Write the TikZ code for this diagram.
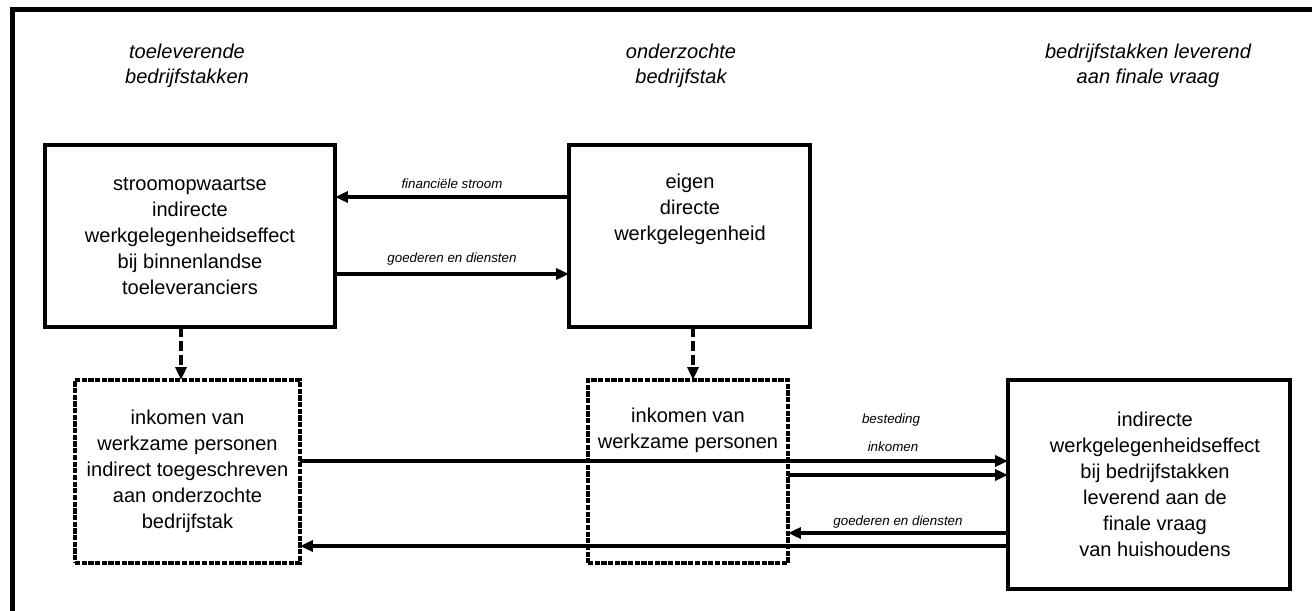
\documentclass[tikz,border=0pt]{standalone}
\usepackage{fontspec}
\setmainfont{Liberation Sans}
\usetikzlibrary{arrows.meta}
\begin{document}
\begin{tikzpicture}[x=0.02cm,y=-0.02cm,
  box/.style={draw, line width=1.9pt, inner sep=0pt, outer sep=0pt, align=center,
    font=\fontsize{11.4}{14.8}\selectfont},
  dotbox/.style={draw, line width=1.8pt, dash pattern=on 3pt off 0.8pt, inner sep=0pt,
    outer sep=0pt, align=center, font=\fontsize{11.4}{14.8}\selectfont},
  txt/.style={align=center, inner sep=0pt, font=\fontsize{11.4}{14.8}\selectfont},
  head/.style={align=center, inner sep=0pt, font=\fontsize{11.4}{14.2}\selectfont\itshape},
  lbl/.style={inner sep=0pt, font=\fontsize{7.6}{9}\selectfont\itshape},
  arr/.style={line width=1.9pt, -{Triangle[length=0.26cm,width=0.22cm]}},
  darr/.style={arr, dash pattern=on 0.2cm off 0.08cm}]
\useasboundingbox (0,0) rectangle (1312,611);
% outer frame (only top and left visible)
\draw[line width=0.1cm, line join=miter] (12.5,10) rectangle (1400,700);

% headers
\node[head] (h1) at (187,65.5) {toeleverende\\bedrijfstakken};
\node[head] (h2) at (681,65.5) {onderzochte\\bedrijfstak};
\node[head] (h3) at (1148,65.5) {bedrijfstakken leverend\\aan finale vraag};

% boxes
\node[box, minimum width=5.8cm, minimum height=3.64cm] (A) at (190,236)
  {stroomopwaartse\\indirecte\\werkgelegenheidseffect\\bij binnenlandse\\toeleveranciers};
\node[box, minimum width=4.82cm, minimum height=3.64cm] (B) at (689.5,236) {};
\node[txt] (Bt) at (690,209) {eigen\\directe\\werkgelegenheid};
\node[dotbox, minimum width=4.5cm, minimum height=3.66cm] (C) at (187.5,471.5)
  {inkomen van\\werkzame personen\\indirect toegeschreven\\aan onderzochte\\bedrijfstak};
\node[dotbox, minimum width=4cm, minimum height=3.66cm] (D) at (688,471.5) {};
\node[txt] (Dt) at (688,430.5) {inkomen van\\werkzame personen};
\node[box, minimum width=5.64cm, minimum height=4.18cm] (E) at (1149,484.5) {};
\node[txt] (Et) at (1155,484) {indirecte\\werkgelegenheidseffect\\bij bedrijfstakken\\leverend aan de\\finale vraag\\van huishoudens};

% levels
\coordinate (y197) at (0,197);
\coordinate (y274) at (0,274);
\coordinate (y461) at (0,461);
\coordinate (y475) at (0,475);
\coordinate (y533) at (0,533);
\coordinate (y546) at (0,546);
\coordinate (xL) at (181,0);
\coordinate (xM) at (693,0);

% connectors
\draw[arr] (B.west |- y197) -- (A.east |- y197)
  node[lbl, midway, above=4pt] (l1) {financiële stroom};
\draw[arr] (A.east |- y274) -- (B.west |- y274)
  node[lbl, midway, above=4pt] (l2) {goederen en diensten};
\draw[darr] (A.south -| xL) -- (C.north -| xL);
\draw[darr] (B.south -| xM) -- (D.north -| xM);
\draw[arr] (C.east |- y461) -- (E.west |- y461);
\draw[arr] (D.east |- y475) -- (E.west |- y475);
\draw[arr] (E.west |- y533) -- (D.east |- y533)
  node[lbl, midway, above=2pt] (l3) {goederen en diensten};
\draw[arr] (E.west |- y546) -- (C.east |- y546);
\node[lbl] (l4) at (891,420) {besteding};
\node[lbl] (l5) at (893,447) {inkomen};
\end{tikzpicture}
\end{document}
